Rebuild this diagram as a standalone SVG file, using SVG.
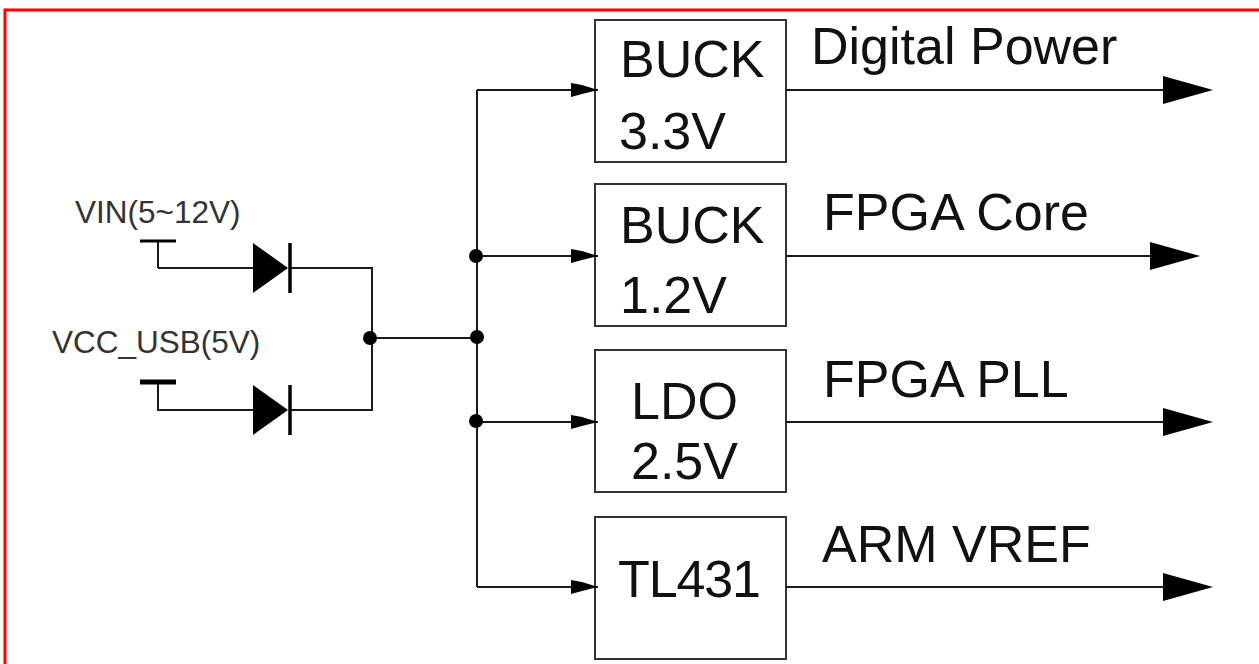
<svg xmlns="http://www.w3.org/2000/svg" width="1259" height="664" viewBox="0 0 1259 664">
<style>
.w{fill:none;stroke:#1a1a1a;stroke-width:2}
.b{fill:#fff;stroke:#333;stroke-width:2}
.t{font-family:"Liberation Sans",Arial,sans-serif;fill:#111}
.l{font-size:52px}
.s{font-size:31.500px;fill:#333}
</style>
<defs>
<path id="big" d="M0-14L50 0L0 14Z" fill="#000"/>
<path id="small" d="M0-7L11-5L27 0L11 4L0 7Z" fill="#000"/>
<g id="diode"><path d="M0-25L35 0L0 25Z" fill="#000"/><path d="M37-25V25" stroke="#000" stroke-width="3.500"/></g>
<circle id="dot" r="7" fill="#000"/>
</defs>
<rect width="1259" height="664" fill="#fff"/>
<path d="M5 664V10H1259" fill="none" stroke="#f00" stroke-width="3"/>
<g id="vin"><text class="t s" x="75" y="223">VIN(5~12V)</text></g>
<g id="vcc"><text class="t s" x="52" y="353">VCC_USB(5V)</text></g>
<g id="buck33"><rect class="b" x="595" y="20" width="191" height="142"/><text class="t l" x="620" y="77">BUCK</text><text class="t l" x="619" y="149">3.3V</text></g>
<g id="buck12"><rect class="b" x="595" y="184" width="191" height="142"/><text class="t l" x="620" y="243">BUCK</text><text class="t l" x="620" y="313">1.2V</text></g>
<g id="ldo"><rect class="b" x="595" y="350" width="191" height="142"/><text class="t l" x="631" y="419">LDO</text><text class="t l" x="631" y="479">2.5V</text></g>
<g id="tl431"><rect class="b" x="595" y="517" width="191" height="142"/><text class="t l" x="618" y="597" textLength="143">TL431</text></g>
<g id="labels">
<text class="t l" x="811" y="64">Digital Power</text>
<text class="t l" x="823" y="230">FPGA Core</text>
<text class="t l" x="823" y="397">FPGA PLL</text>
<text class="t l" x="822" y="562">ARM VREF</text>
</g>
<g id="connectors">
<path class="w" d="M158 268H253M291 268H372V410H291M253 410H158V382M158 268V241M371 338H477M477 90V587M477 90H598M477 256H598M477 422H598M477 587H598"/>
<path class="w" d="M786 90H1165M786 256H1150M786 422H1163M786 587H1163"/>
<path d="M140 241H176" stroke="#000" stroke-width="3"/><path d="M140 382H176" stroke="#000" stroke-width="5"/>
<use href="#diode" x="253" y="268"/><use href="#diode" x="253" y="410"/>
<use href="#small" x="571" y="90"/><use href="#small" x="571" y="256"/><use href="#small" x="571" y="422"/><use href="#small" x="571" y="587"/>
<use href="#big" x="1163" y="90"/><use href="#big" x="1150" y="256"/><use href="#big" x="1163" y="422"/><use href="#big" x="1163" y="587"/>
<use href="#dot" x="370" y="338"/><use href="#dot" x="476" y="256"/><use href="#dot" x="477" y="337"/><use href="#dot" x="476" y="421"/>
</g>
</svg>
